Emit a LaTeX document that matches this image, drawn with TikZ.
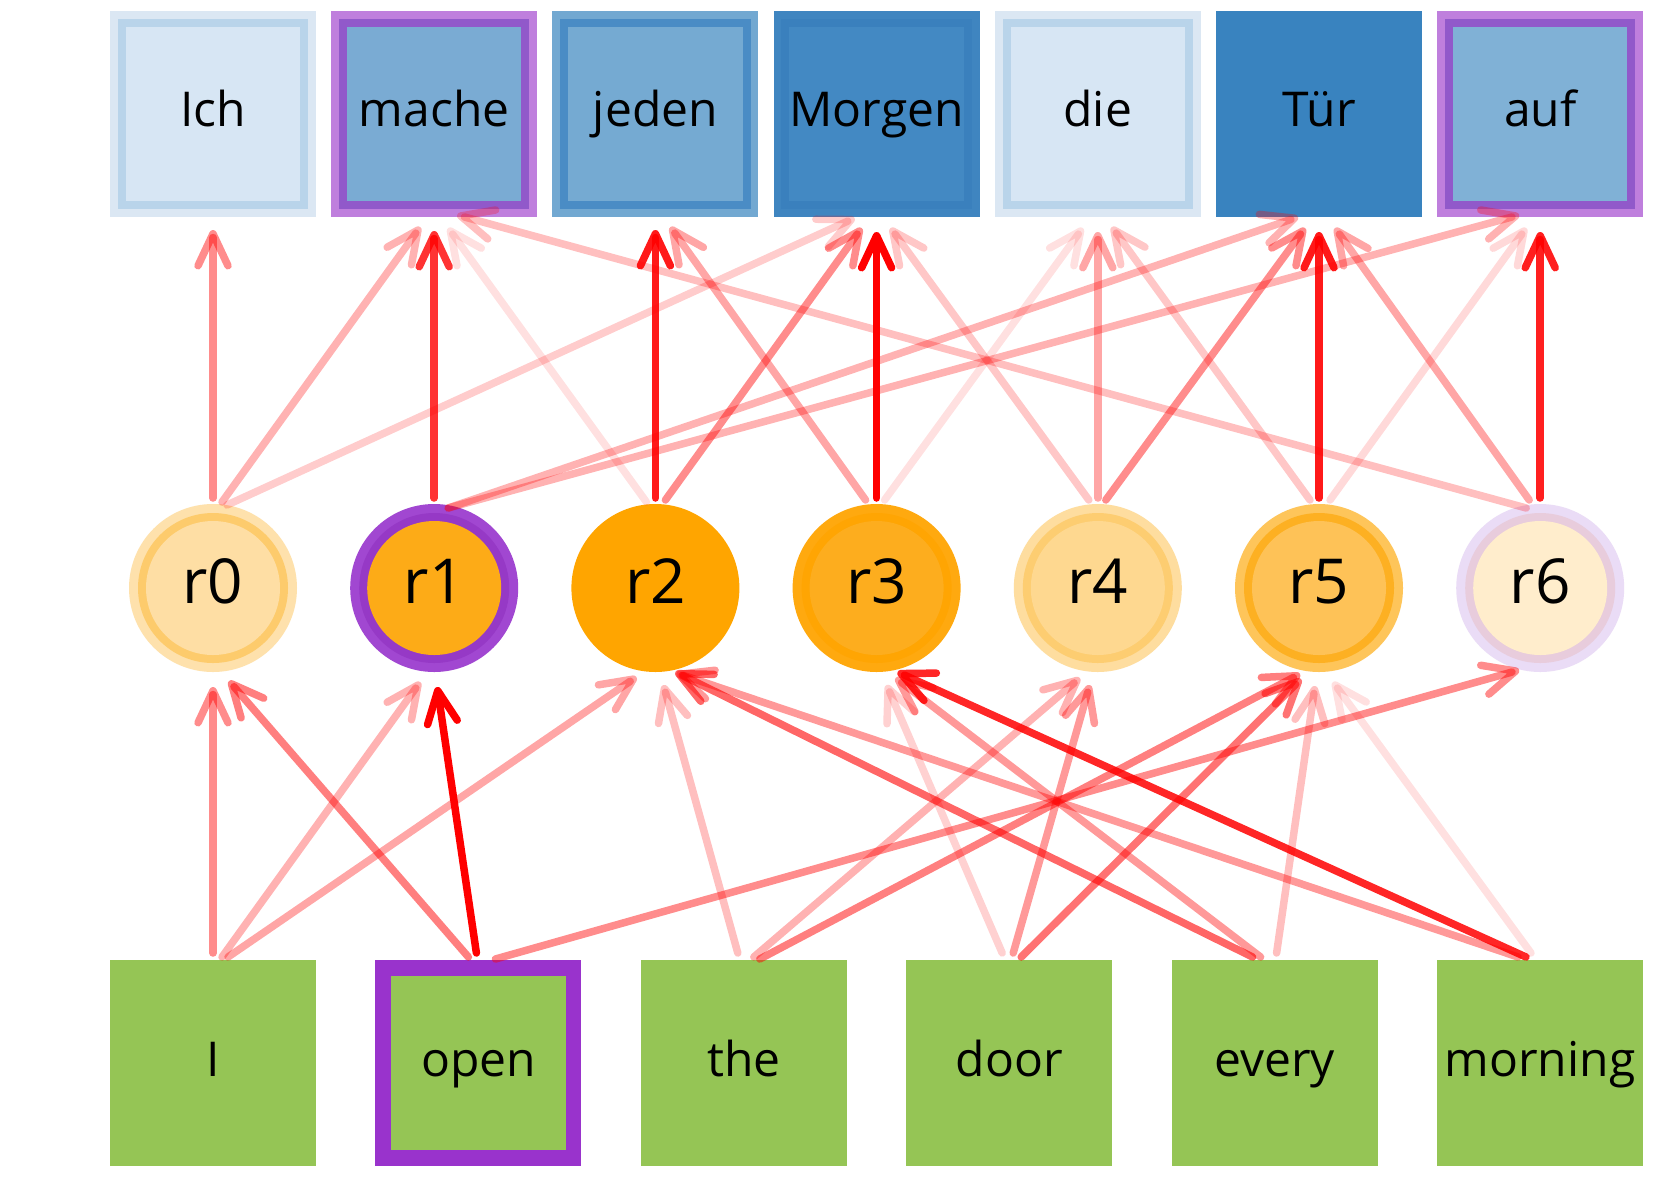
\documentclass[tikz,border=0pt]{standalone}
\usepackage{fontspec}
\setmainfont{Open Sans}
\usetikzlibrary{arrows.meta}
\definecolor{lbo}{HTML}{DBE7F3}\definecolor{lbs}{HTML}{B9D4EA}\definecolor{lbi}{HTML}{D7E6F4}
\definecolor{pbo}{HTML}{BF7FDD}\definecolor{pbs}{HTML}{9159CA}\definecolor{mbi}{HTML}{7AABD3}\definecolor{abi}{HTML}{80B1D6}
\definecolor{jbo}{HTML}{72A8D1}\definecolor{jbs}{HTML}{4A8CC5}\definecolor{jbi}{HTML}{75AAD2}
\definecolor{gbo}{HTML}{3F85C0}\definecolor{gbs}{HTML}{3A80BD}\definecolor{gbi}{HTML}{4389C3}
\definecolor{tbx}{HTML}{3983BF}
\definecolor{c0o}{HTML}{FEE1AC}\definecolor{c0r}{HTML}{FDCB6C}\definecolor{c0i}{HTML}{FEDEA4}
\definecolor{c1o}{HTML}{A147D1}\definecolor{c1r}{HTML}{9639C6}\definecolor{c1i}{HTML}{FDAB17}
\definecolor{c2o}{HTML}{FFA500}
\definecolor{c3o}{HTML}{FFA90F}\definecolor{c3r}{HTML}{FFA503}\definecolor{c3i}{HTML}{FDAD1E}
\definecolor{c4o}{HTML}{FEDD9F}\definecolor{c4r}{HTML}{FDCD71}\definecolor{c4i}{HTML}{FED890}
\definecolor{c5o}{HTML}{FEC55A}\definecolor{c5r}{HTML}{FDB022}\definecolor{c5i}{HTML}{FEC257}
\definecolor{c6o}{HTML}{EADCF6}\definecolor{c6r}{HTML}{E8CCDC}\definecolor{c6i}{HTML}{FFEDCC}
\definecolor{grn}{HTML}{95C555}\definecolor{pur}{HTML}{9933CC}
\newcommand\topbox[6]{%
  \node[box, fill=#3] (#1) at (#2,114) {};
  \fill[#4] ([shift={(8pt,-8pt)}]#1.north west) rectangle ([shift={(-8pt,8pt)}]#1.south east);
  \fill[#5] ([shift={(16pt,-16pt)}]#1.north west) rectangle ([shift={(-16pt,16pt)}]#1.south east);
  \node[lbl] at ([yshift=-12pt]#1.center) {#6};}
\newcommand\rnode[6]{%
  \node[circ, fill=#3] (#1) at (#2,588) {};
  \fill[#4] (#1.center) circle (75pt);
  \fill[#5] (#1.center) circle (67pt);
  \node[clbl] at ([yshift=-15pt]#1.center) {#6};}
\newcommand\wbox[3]{%
  \node[box, fill=grn] (#1) at (#2,1063) {};
  \node[lbl] at ([yshift=-13pt]#1.center) {#3};}
\newcommand\edge[5]{%
  \draw[edge, draw opacity=#5] ([shift={(#2)}]#1.center) -- ([shift={(#4)}]#3.center);}
\begin{document}
\begin{tikzpicture}[x=1pt,y=-1pt,
  box/.style={rectangle, minimum width=206pt, minimum height=206pt, inner sep=0pt, draw=none},
  circ/.style={circle, minimum size=168pt, inner sep=0pt, draw=none},
  lbl/.style={font=\fontsize{48}{58}\selectfont, inner sep=0pt, anchor=base},
  clbl/.style={font=\fontsize{62}{70}\selectfont, inner sep=0pt, anchor=base},
  edge/.style={draw=red, line width=7.5pt, line cap=round, -{Straight Barb[length=32pt,width=30pt,round]}}]
\useasboundingbox (0,0) rectangle (1661,1179);
\fill[white] (0,0) rectangle (1661,1179);
% target words
\topbox{t0}{213}{lbo}{lbs}{lbi}{Ich}
\topbox{t1}{434.2}{pbo}{pbs}{mbi}{mache}
\topbox{t2}{655.4}{jbo}{jbs}{jbi}{jeden}
\topbox{t3}{876.6}{gbo}{gbs}{gbi}{Morgen}
\topbox{t4}{1097.8}{lbo}{lbs}{lbi}{die}
\topbox{t5}{1319}{tbx}{tbx}{tbx}{Tür}
\topbox{t6}{1540.2}{pbo}{pbs}{abi}{auf}
% hidden units
\rnode{r0}{213}{c0o}{c0r}{c0i}{r0}
\rnode{r1}{434.2}{c1o}{c1r}{c1i}{r1}
\rnode{r2}{655.4}{c2o}{c2o}{c2o}{r2}
\rnode{r3}{876.6}{c3o}{c3r}{c3i}{r3}
\rnode{r4}{1097.8}{c4o}{c4r}{c4i}{r4}
\rnode{r5}{1319}{c5o}{c5r}{c5i}{r5}
\rnode{r6}{1540.2}{c6o}{c6r}{c6i}{r6}
% source words
\wbox{s0}{213}{I}
\node[box, fill=pur] (s1) at (478.4,1063) {};
\fill[grn] ([shift={(16pt,-16pt)}]s1.north west) rectangle ([shift={(-16pt,16pt)}]s1.south east);
\node[lbl] at ([yshift=-13pt]s1.center) {open};
\wbox{s2}{743.8}{the}
\wbox{s3}{1009.2}{door}
\wbox{s4}{1274.6}{every}
\wbox{s5}{1540}{morning}
% upper connectors
\edge{r0}{0,-90}{t0}{0,116}{0.45}
\edge{r0}{9,-86}{t1}{-14,113}{0.3}
\edge{r0}{14,-83}{t3}{-22,104}{0.2}
\edge{r1}{0,-90}{t1}{0,117}{0.8}
\edge{r1}{14,-80}{t5}{-21,103}{0.3}
\edge{r1}{14,-80}{t6}{-21,101}{0.3}
\edge{r2}{-9,-86}{t1}{14,114}{0.12}
\edge{r2}{0,-90}{t2}{0,116}{0.9}
\edge{r2}{10,-88}{t3}{-15,114}{0.45}
\edge{r3}{-11,-88}{t2}{15,113}{0.35}
\edge{r3}{0,-90}{t3}{0,118}{1}
\edge{r3}{8,-88}{t4}{-15,114}{0.12}
\edge{r4}{-9,-88}{t3}{14,114}{0.22}
\edge{r4}{0,-90}{t4}{0,118}{0.35}
\edge{r4}{8,-88}{t5}{-14,114}{0.45}
\edge{r5}{-9,-88}{t4}{14,113}{0.22}
\edge{r5}{0,-90}{t5}{0,118}{0.9}
\edge{r5}{11,-88}{t6}{-14,114}{0.15}
\edge{r6}{-14,-80}{t1}{23,101}{0.25}
\edge{r6}{-11,-88}{t5}{16,114}{0.35}
\edge{r6}{0,-90}{t6}{0,118}{0.88}
% lower connectors
\edge{s0}{0,-110}{r0}{0,99}{0.45}
\edge{s0}{9,-106}{r1}{-14,94}{0.3}
\edge{s0}{15,-106}{r2}{-19,89}{0.35}
\edge{s1}{-10,-106}{r0}{16,93}{0.5}
\edge{s1}{-2,-110}{r1}{3,99}{1}
\edge{s1}{17,-104}{r6}{-21,82}{0.45}
\edge{s2}{-6,-110}{r2}{8,97}{0.25}
\edge{s2}{10,-106}{r4}{-18,90}{0.3}
\edge{s2}{16,-104}{r5}{-19,86}{0.5}
\edge{s3}{-7,-110}{r3}{10,97}{0.18}
\edge{s3}{4,-110}{r4}{-8,97}{0.4}
\edge{s3}{12,-106}{r5}{-18,91}{0.55}
\edge{s4}{-22,-106}{r2}{20,84}{0.6}
\edge{s4}{-14,-106}{r3}{19,90}{0.4}
\edge{s4}{2,-110}{r5}{-4,98}{0.25}
\edge{s5}{-22,-106}{r2}{21,85}{0.4}
\edge{s5}{-14,-106}{r3}{21,84}{0.85}
\edge{s5}{-9,-110}{r5}{14,94}{0.12}
\end{tikzpicture}
\end{document}
